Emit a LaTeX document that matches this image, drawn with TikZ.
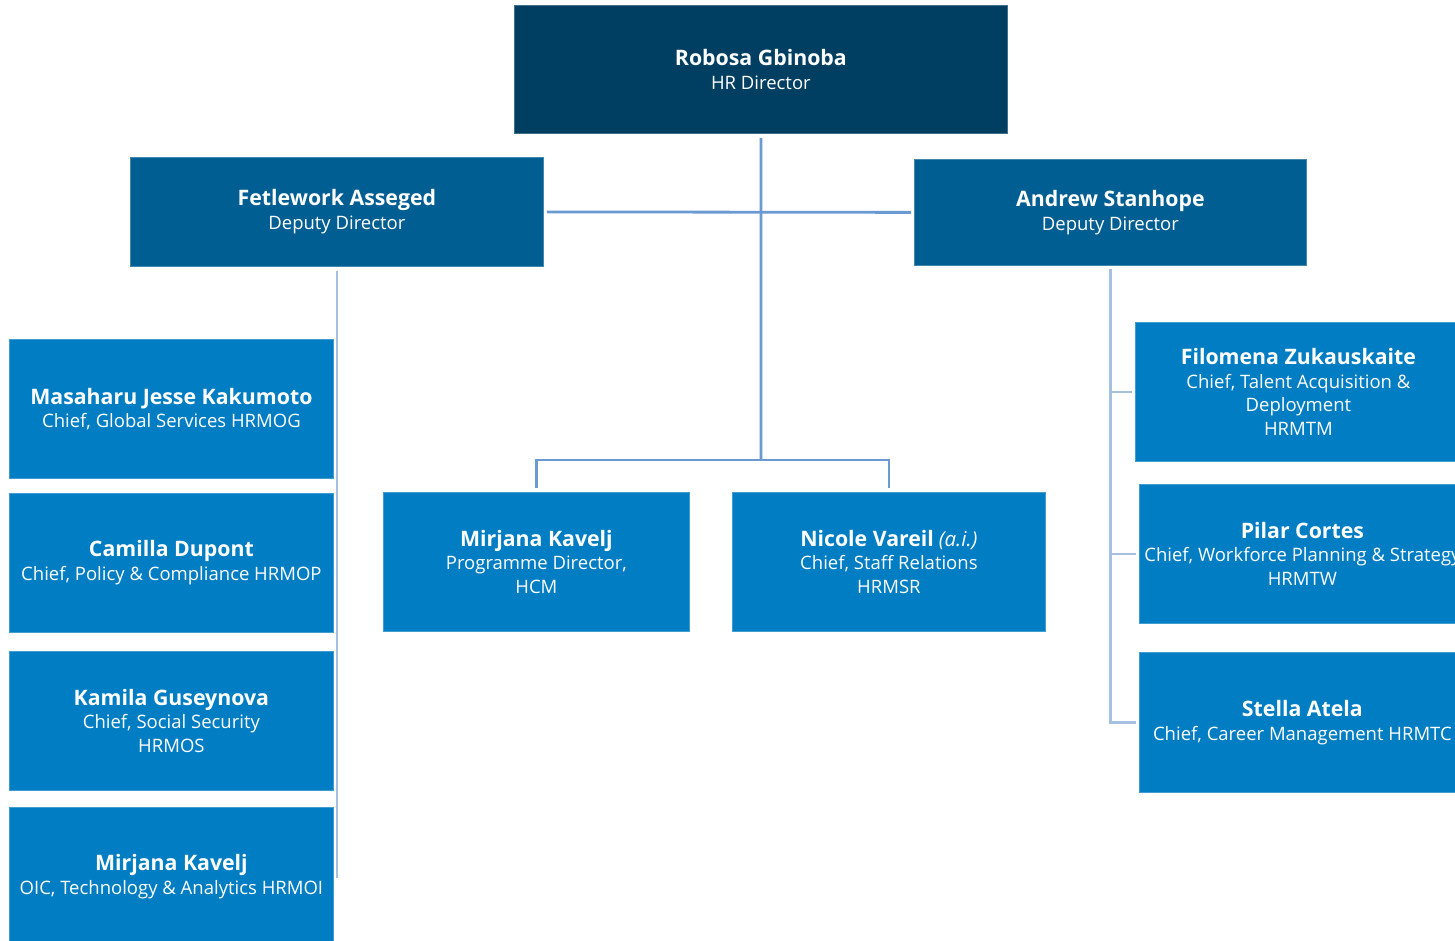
\documentclass[tikz,border=0pt]{standalone}
\usepackage{fontspec}
\setmainfont{Open Sans}
\definecolor{cTop}{HTML}{003F62}
\definecolor{cDep}{HTML}{005E92}
\definecolor{cBox}{HTML}{007DC3}
\definecolor{cLine}{HTML}{6A9AD1}
\definecolor{cLight}{HTML}{A6C0E1}
\tikzset{
  org/.style={anchor=north west, inner sep=0pt, align=center, text=white,
    draw=#1!75!white, line width=0.8pt, fill=#1,
    font=\fontsize{18.5}{23.6}\selectfont},
  link/.style={draw=cLine, line width=2.8pt},
  lightlink/.style={draw=cLight, line width=2.8pt},
}
\newcommand{\nm}[1]{{\bfseries\fontsize{21.3}{23.6}\selectfont #1}}
\begin{document}
\begin{tikzpicture}[x=1pt,y=-1pt]
\useasboundingbox (0,0) rectangle (1455,941);
\clip (0,0) rectangle (1455,941);
% boxes
\node[org=cTop, minimum width=493pt, minimum height=128pt] (top) at (514,5) {\nm{Robosa Gbinoba}\\HR Director};
\node[org=cDep, minimum width=413pt, minimum height=109pt] (fet) at (130,157) {\nm{Fetlework Asseged}\\Deputy Director};
\node[org=cDep, minimum width=392pt, minimum height=106pt] (and) at (914,159) {\nm{Andrew Stanhope}\\Deputy Director};
\node[org=cBox, minimum width=324pt, minimum height=139pt] (mas) at (9,339) {\nm{Masaharu Jesse Kakumoto}\\Chief, Global Services HRMOG};
\node[org=cBox, minimum width=324pt, minimum height=139pt] (cam) at (9,493) {\nm{Camilla Dupont}\\Chief, Policy \& Compliance HRMOP};
\node[org=cBox, minimum width=324pt, minimum height=139pt] (kam) at (9,651) {\nm{Kamila Guseynova}\\Chief, Social Security\\HRMOS};
\node[org=cBox, minimum width=324pt, minimum height=139pt] (mir2) at (9,807) {\nm{Mirjana Kavelj}\\OIC, Technology \& Analytics HRMOI};
\node[org=cBox, minimum width=306pt, minimum height=139pt] (mir) at (383,492) {\nm{Mirjana Kavelj}\\Programme Director,\\HCM};
\node[org=cBox, minimum width=313pt, minimum height=139pt] (nic) at (732,492) {\nm{Nicole Vareil} {\itshape\fontsize{20.5}{23.6}\selectfont(a.i.)}\\Chief, Staff Relations\\HRMSR};
\node[org=cBox, minimum width=326pt, minimum height=139pt] (fil) at (1135,322) {\nm{Filomena Zukauskaite}\\Chief, Talent Acquisition \&\\Deployment\\HRMTM};
\node[org=cBox, minimum width=326pt, minimum height=139pt] (pil) at (1139,484) {\nm{Pilar Cortes}\\Chief, Workforce Planning \& Strategy\\HRMTW};
\node[org=cBox, minimum width=326pt, minimum height=140pt] (ste) at (1139,652) {\nm{Stella Atela}\\Chief, Career Management HRMTC};
% connectors
\coordinate (j) at (761,460);
\draw[link] ([yshift=-4pt]top.south) -- (j);
\draw[link] ([xshift=3pt]fet.east) -- ([xshift=-3pt]and.west);
\draw[link] ([yshift=4pt]mir.north) -- (mir.north |- j) -- (nic.north |- j) -- ([yshift=4pt]nic.north);
\draw[lightlink] ([yshift=-4pt]fet.south) -- ++(0,607);
\draw[lightlink] ([yshift=-3pt]and.south) -- (and.south |- ste.west) -- ([xshift=-3pt]ste.west);
\draw[lightlink] (and.south |- fil.west) -- ([xshift=-3pt]fil.west);
\draw[lightlink] (and.south |- pil.west) -- ([xshift=-3pt]pil.west);
\end{tikzpicture}
\end{document}
